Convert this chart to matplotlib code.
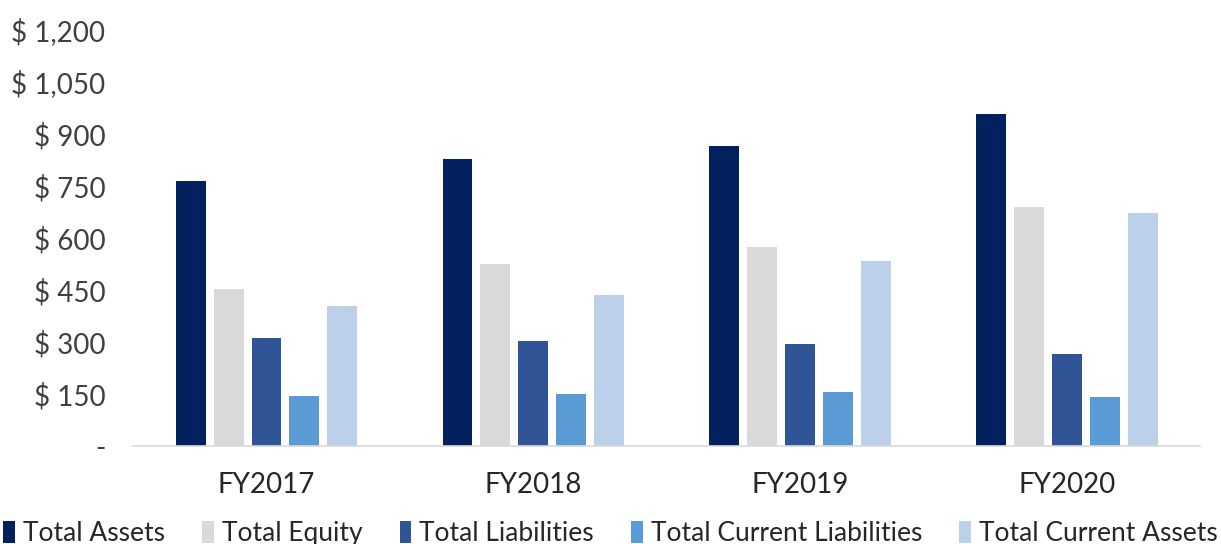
import numpy as np
import matplotlib.pyplot as plt

# 数据 (百万美元)
years = ['FY2017', 'FY2018', 'FY2019', 'FY2020']
total_assets = [764, 829, 866, 958]
total_equity = [454, 524, 575, 690]
total_liabilities = [311, 302, 293, 265]
total_current_liabilities = [145, 149, 155, 141]
total_current_assets = [404, 436, 533, 671]

series = [
    ('Total Assets', total_assets, '#03215e'),
    ('Total Equity', total_equity, '#d9d9d9'),
    ('Total Liabilities', total_liabilities, '#2f5597'),
    ('Total Current Liabilities', total_current_liabilities, '#5b9bd5'),
    ('Total Current Assets', total_current_assets, '#bcd0ea'),
]

plt.rcParams['font.family'] = ['Lato', 'DejaVu Sans']

fig = plt.figure(figsize=(12.21, 5.44), dpi=100)
ax = fig.add_axes([0.109, 0.18, 0.874, 0.765])

x = np.arange(len(years))
step = 0.142
width = 0.112
for i, (name, vals, color) in enumerate(series):
    ax.bar(x + (i - 2) * step, vals, width, color=color, label=name)

ax.set_xlim(-0.5, len(years) - 0.5)
ax.set_ylim(0, 1200)
ticks = np.arange(0, 1201, 150)
ax.set_yticks(ticks)
ax.set_yticklabels(['-' if t == 0 else f'$ {t:,}' for t in ticks], fontsize=20, color='#404040')
ax.set_xticks(x)
ax.set_xticklabels(years, fontsize=20, color='#262626')
ax.tick_params(axis='y', length=0, pad=20)
ax.tick_params(axis='x', length=0, pad=19)

for s in ['top', 'right', 'left']:
    ax.spines[s].set_visible(False)
ax.spines['bottom'].set_color('#d9d9d9')
ax.spines['bottom'].set_linewidth(1.2)

fig.legend(loc='lower center', bbox_to_anchor=(0.5, -0.048), ncol=5, frameon=False,
           fontsize=19, handlelength=0.45, handleheight=0.9, handletextpad=0.3,
           columnspacing=1.4, labelcolor='#262626')

plt.savefig('out.png', dpi=100)
